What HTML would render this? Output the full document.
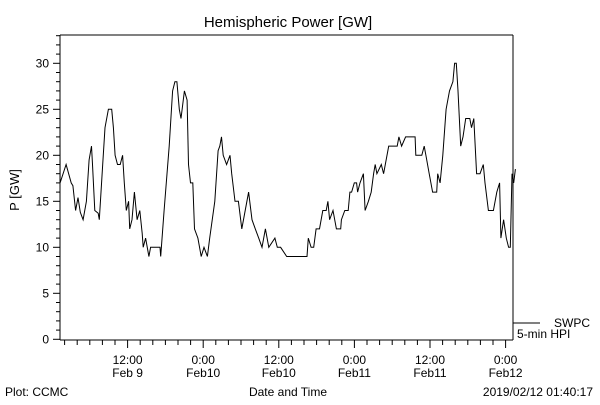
<!DOCTYPE html>
<html><head><meta charset="utf-8"><style>
body{margin:0;background:#fff}
svg text{font-family:"Liberation Sans",sans-serif;fill:#000}
</style></head><body>
<svg width="600" height="400" viewBox="0 0 600 400" id="chart">
<text x="288" y="27" font-size="15" text-anchor="middle">Hemispheric Power [GW]</text>
<text transform="translate(19,190) rotate(-90)" font-size="13" text-anchor="middle">P [GW]</text>
<text x="5" y="396" font-size="12">Plot: CCMC</text>
<text x="288" y="396" font-size="12" text-anchor="middle">Date and Time</text>
<text x="593" y="396" font-size="12" text-anchor="end">2019/02/12 01:40:17</text>
<g id="axes"></g>
<path id="series" fill="none" stroke="#000" stroke-width="1"/>
<line x1="513" y1="323" x2="540" y2="323" stroke="#000"/>
<text x="590" y="327" font-size="12" text-anchor="end">SWPC</text>
<text x="517" y="338" font-size="12">5-min HPI</text>
</svg>
<script>
const hours=[0.9,1.07,1.28,2.24,3.05,3.32,3.75,4.12,4.50,4.93,5.46,5.89,6.27,6.43,6.80,7.34,7.50,8.04,8.41,8.95,9.48,9.75,10.02,10.40,10.82,11.2,11.47,11.79,12.16,12.33,12.7,13.08,13.5,13.93,14.31,14.47,14.85,15.38,15.65,17.15,17.26,17.79,18.6,19.14,19.51,19.83,20.21,20.48,21.01,21.44,21.66,21.98,22.35,22.62,23.16,23.69,24.12,24.66,25.03,25.84,26.37,26.64,26.91,27.18,27.71,28.25,28.52,29.05,29.59,30.13,30.66,31.2,31.74,32.27,32.81,33.34,33.88,34.42,35.38,35.76,36.29,37.26,40.47,40.69,41.12,41.54,41.92,42.46,42.99,43.53,43.80,44.06,44.6,44.87,45.14,45.83,45.94,46.48,47.01,47.28,47.55,47.98,48.35,48.51,48.89,49.43,49.7,50.23,50.66,51.04,51.3,51.57,52.27,52.64,52.91,53.45,54.79,55.06,55.49,56.13,57.63,57.74,58.7,59.08,59.35,59.88,60.42,61.06,61.22,61.6,62.03,62.56,63.1,63.64,63.9,64.17,64.44,64.87,65.24,65.67,66.32,66.58,66.96,67.39,67.93,68.46,68.73,69.27,70.07,70.61,71.04,71.25,71.68,72.11,72.48,72.75,73.02,73.29,73.56];
const power=[17,22,17,19,17,16.7,14,15.4,13.8,13,15,19.5,21,19,14,13.7,13,19,23,25,25,23,20,19,19,20,17,14,15,12,13,16,13,14,11.5,10,11,9,10,10,9,14,21,27,28,28,25,24,27,26,19,17,17,12,11,9,10,9,11,15,20.5,21,22,20,19,20,18,15,15,12,14,16,13,12,11,10,12,10,11,10,10,9,9,11,10,10,12,12,14,14,15,13,14,13,12,12,13,14,14,16,16,17,17,16,17,18,14,15,16,18,19,18,19,18,19,21,21,22,21,22,22,20,20,21,20,18,16,16,18,17,20,25,27,28,30,30,27,21,22,24,24,23,24,18,18,19,17,14,14,16,17,11,13,11,10,10,18,17,18.5];
const yTicks=[0,5,10,15,20,25,30];
const xTickHours=[12,24,36,48,60,72];
const xTickLabels=[["12:00","Feb 9"],["0:00","Feb10"],["12:00","Feb10"],["0:00","Feb11"],["12:00","Feb11"],["0:00","Feb12"]];
const L=60,R=513,T=35,B=340;
function xs(h){return 52+h*6.3;}
function ys(v){return 339.3-v*9.2;}
const NS="http://www.w3.org/2000/svg";
const g=document.getElementById('axes');
function ln(x1,y1,x2,y2,name){const e=document.createElementNS(NS,'line');e.setAttribute('x1',x1);e.setAttribute('y1',y1);e.setAttribute('x2',x2);e.setAttribute('y2',y2);e.setAttribute('stroke','#000');


g.appendChild(e);return e;}
function tx(x,y,s,anchor,name){const e=document.createElementNS(NS,'text');e.setAttribute('x',x);e.setAttribute('y',y);e.setAttribute('font-size','12');e.setAttribute('text-anchor',anchor);e.textContent=s;


g.appendChild(e);}
ln(L,T,R,T,'plot-frame-top');
ln(L,T,L,B,'y-axis-line');
ln(R,T,R,B,'plot-frame-right');
ln(L,B,R,B,'x-axis-line');
for(let v=0;v<=33;v++){const y=ys(v);const major=v%5===0;ln(L-(major?7:4),y,L,y,'y-tick');}
yTicks.forEach(v=>tx(L-11,ys(v)+4,String(v),'end','y-tick-label'));
for(let h=2;h<=74;h+=2){const x=xs(h);if(x<L||x>R)continue;const major=h%12===0;ln(x,B,x,B+(major?8:5),'x-tick');}
xTickHours.forEach((h,i)=>{tx(xs(h),364,xTickLabels[i][0],'middle','x-tick-label');tx(xs(h),377,xTickLabels[i][1],'middle','x-tick-date');});
let d='';
for(let i=0;i<hours.length;i++){const x=Math.max(L,xs(hours[i])).toFixed(1),y=ys(power[i]).toFixed(1);
d+=(i===0?'M':' L')+x+' '+y;}
document.getElementById('series').setAttribute('d',d);
</script>
</body></html>
